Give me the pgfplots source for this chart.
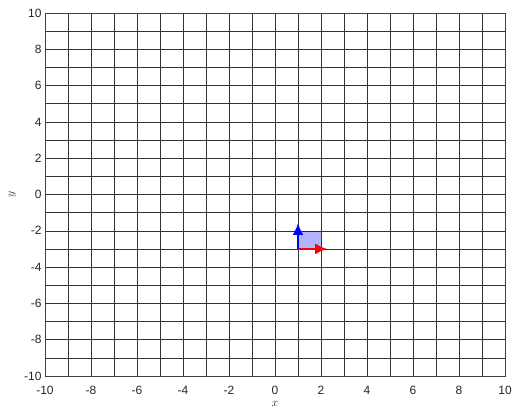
\documentclass[border=0pt]{standalone}
\usepackage{pgfplots}
\pgfplotsset{compat=1.18}
\usepackage{fontspec}
\setmainfont{Liberation Sans}
\usetikzlibrary{arrows.meta}
\begin{document}
\begin{tikzpicture}
\begin{axis}[
  name=ax,
  scale only axis, width=460pt, height=363pt,
  xmin=-10, xmax=10, ymin=-10, ymax=10,
  xtick={-10,-8,...,10}, ytick={-10,-8,...,10},
  minor xtick={-9,-7,...,9}, minor ytick={-9,-7,...,9},
  grid=both,
  major grid style={black!80, line width=0.5pt},
  minor grid style={black!80, line width=0.5pt},
  major tick length=0pt, minor tick length=0pt,
  axis line style={black!75, line width=0.6pt},
  ticklabel style={font=\fontsize{12}{14}\selectfont, text=black!85},
  xticklabel style={yshift=-7pt},
  /pgf/number format/assume math mode=true,
  xlabel={$x$}, ylabel={$y$},
  label style={font=\fontsize{13}{14}\selectfont, text=black!80},
  xlabel style={yshift=1pt},
  ylabel style={yshift=1pt},
]
\addplot[fill=blue, fill opacity=0.3, draw=none] coordinates {(1,-3) (2,-3) (2,-2) (1,-2)} -- cycle;
\addplot[red, line width=2.2pt, -{Latex[length=12pt,width=11pt]},
  quiver={u=\thisrow{u}, v=\thisrow{v}}] table {
x y u v
1 -3 1.27 0
};
\addplot[blue, line width=2.2pt, -{Latex[length=12pt,width=11pt]},
  quiver={u=\thisrow{u}, v=\thisrow{v}}] table {
x y u v
1 -3 0 1.43
};
\end{axis}
\pgfresetboundingbox
\path ([xshift=-45pt,yshift=-36pt]ax.south west) rectangle ([xshift=8pt,yshift=13pt]ax.north east);
\end{tikzpicture}
\end{document}
